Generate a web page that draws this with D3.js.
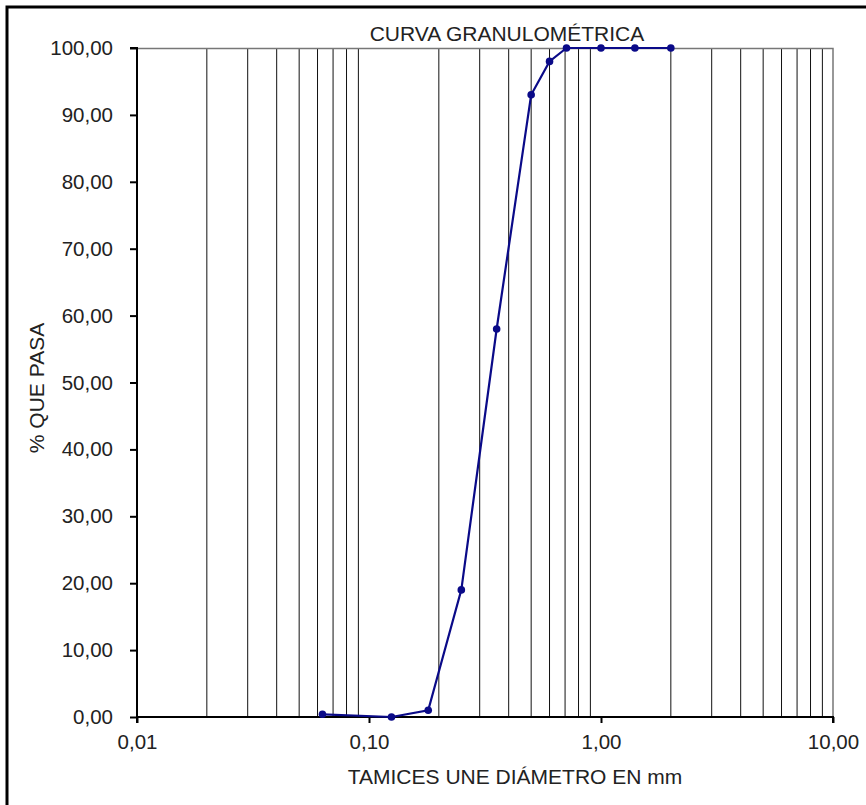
<!DOCTYPE html>
<html>
<head>
<meta charset="utf-8">
<script src="https://cdn.jsdelivr.net/npm/d3@7"></script>
<style>
  body { margin: 0; background: #fff; }
  svg { font-family: "Liberation Sans", Arial, sans-serif; }
</style>
</head>
<body>
<div id="chart"></div>
<script>
// sieve sizes (mm) and % passing
var diametros = [0.063, 0.125, 0.18, 0.25, 0.355, 0.5, 0.6, 0.71, 1.0, 1.4, 2.0];
var pasa = [0.4, 0.0, 1.0, 19.0, 58.0, 93.0, 98.0, 100.0, 100.0, 100.0, 100.0];
var xTicks = [0.01, 0.1, 1, 10];
var yTicks = [0, 10, 20, 30, 40, 50, 60, 70, 80, 90, 100];

var svgWidth = 866;
var svgHeight = 805;

var margin = { top: 48, right: 33, bottom: 88, left: 137 };
var chartWidth = svgWidth - margin.left - margin.right;
var chartHeight = svgHeight - margin.top - margin.bottom;

var svg = d3.select("#chart").append("svg")
  .attr("width", svgWidth)
  .attr("height", svgHeight);

// outer frame
svg.append("rect")
  .attr("x", 7).attr("y", 7)
  .attr("width", svgWidth + 10).attr("height", svgHeight + 10)
  .attr("fill", "none").attr("stroke", "#000").attr("stroke-width", 3);

var g = svg.append("g")
  .attr("transform", `translate(${margin.left}, ${margin.top})`);

var xScale = d3.scaleLog().domain([0.01, 10]).range([0, chartWidth]);
var yScale = d3.scaleLinear().domain([0, 100]).range([chartHeight, 0]);

var fmt = function(d, n) { return d.toFixed(n).replace(".", ","); };

// minor vertical gridlines (not at decades)
var minors = xScale.ticks().filter(function(d) {
  var e = Math.log10(d);
  return Math.abs(e - Math.round(e)) > 1e-6;
});
g.selectAll(".grid")
  .data(minors)
  .enter().append("line")
  .attr("x1", function(d) { return xScale(d); })
  .attr("x2", function(d) { return xScale(d); })
  .attr("y1", 0).attr("y2", chartHeight)
  .attr("stroke", "#111").attr("stroke-width", 1);

// top and right plot border
g.append("path")
  .attr("d", `M0,0.5H${chartWidth}V${chartHeight}`)
  .attr("fill", "none").attr("stroke", "#777").attr("stroke-width", 1.5);

var yAxis = d3.axisLeft(yScale).tickValues(yTicks).tickSize(7)
  .tickFormat(function(d) { return fmt(d, 2); });
var xAxis = d3.axisBottom(xScale).tickValues(xTicks).tickSize(6)
  .tickFormat(function(d) { return fmt(d, 2); });

var ya = g.append("g").call(yAxis);
ya.select(".domain").attr("d", `M-7,0H0V${chartHeight}`).attr("stroke-width", 2);
ya.selectAll(".tick line").attr("stroke-width", 2);
ya.selectAll("text").attr("font-size", 20.5).attr("fill", "#222").attr("x", -24);

var xa = g.append("g").attr("transform", `translate(0, ${chartHeight})`).call(xAxis);
xa.select(".domain").attr("d", `M0,6V0H${chartWidth}V6`).attr("stroke-width", 2);
xa.selectAll(".tick line").attr("stroke-width", 2);
xa.selectAll("text").attr("font-size", 20.5).attr("fill", "#222").attr("y", 17);

// data line
var line = d3.line()
  .x(function(d, i) { return xScale(diametros[i]); })
  .y(function(d) { return yScale(d); });

g.append("path")
  .datum(pasa)
  .attr("d", line)
  .attr("fill", "none")
  .attr("stroke", "#0a0a88")
  .attr("stroke-width", 2.2);

g.selectAll(".dot")
  .data(pasa)
  .enter().append("circle")
  .attr("cx", function(d, i) { return xScale(diametros[i]); })
  .attr("cy", function(d) { return yScale(d); })
  .attr("r", 3.8)
  .attr("fill", "#0a0a88");

// titles
svg.append("text")
  .attr("x", 507).attr("y", 41)
  .attr("text-anchor", "middle").attr("font-size", 21).attr("fill", "#222")
  .text("CURVA GRANULOMÉTRICA");

svg.append("text")
  .attr("x", 515).attr("y", 784)
  .attr("text-anchor", "middle").attr("font-size", 21).attr("fill", "#222")
  .text("TAMICES UNE DIÁMETRO EN mm");

svg.append("text")
  .attr("transform", "translate(44, 388) rotate(-90)")
  .attr("text-anchor", "middle").attr("font-size", 21).attr("fill", "#222")
  .text("% QUE PASA");
</script>
</body>
</html>
